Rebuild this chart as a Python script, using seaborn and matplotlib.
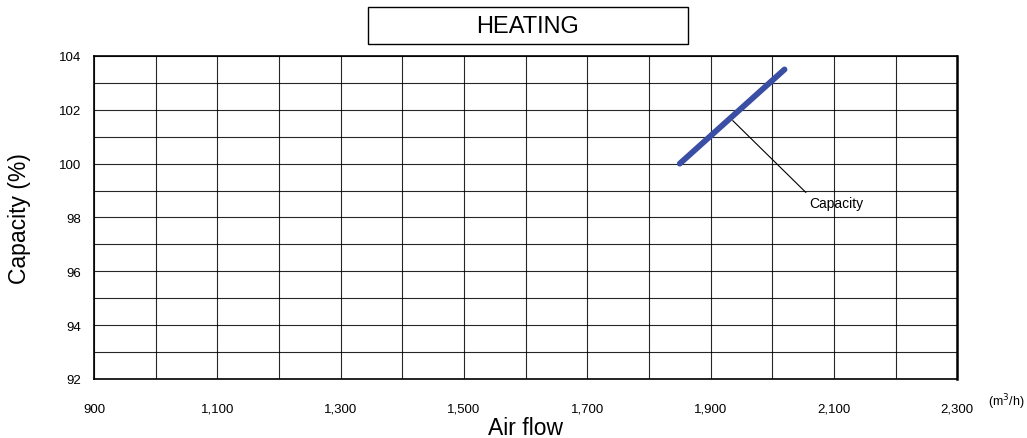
import numpy as np
import pandas as pd
import matplotlib.pyplot as plt
import seaborn as sns
from matplotlib.patches import Rectangle
from matplotlib.ticker import MultipleLocator, FuncFormatter

# Air flow vs capacity (heating)
air_flow = [1850, 2020]
capacity = [100.0, 103.5]
series_name = "Capacity"
x_ticks = [900, 1100, 1300, 1500, 1700, 1900, 2100, 2300]
y_ticks = [92, 94, 96, 98, 100, 102, 104]

df = pd.DataFrame({'air_flow': air_flow, 'capacity': capacity})

sns.set_style("white")
plt.rcParams['font.family'] = ['Liberation Sans', 'DejaVu Sans']
plt.rcParams['text.color'] = 'black'
plt.rcParams['axes.labelcolor'] = 'black'
plt.rcParams['xtick.color'] = 'black'
plt.rcParams['ytick.color'] = 'black'

fig = plt.figure(figsize=(10.27, 4.39), dpi=100)
ax = fig.add_axes([0.0915, 0.1344, 0.8405, 0.7358])

sns.lineplot(data=df, x='air_flow', y='capacity', ax=ax, color='#3a4ea3',
             linewidth=4.2, solid_capstyle='round')

ax.set_xlim(900, 2300)
ax.set_ylim(92, 104)
ax.set_xticks(x_ticks)
ax.set_yticks(y_ticks)
ax.xaxis.set_minor_locator(MultipleLocator(100))
ax.yaxis.set_minor_locator(MultipleLocator(1))
ax.xaxis.set_major_formatter(FuncFormatter(lambda v, p: f"{int(v):,}"))
ax.grid(which='both', color='black', linewidth=0.8, alpha=0.85)
ax.set_axisbelow(True)
ax.tick_params(axis='x', which='both', length=0, pad=17, labelsize=9.5)
ax.tick_params(axis='y', which='major', length=2, pad=7, labelsize=9.5)
ax.tick_params(axis='y', which='minor', length=0)

for s in ax.spines.values():
    s.set_color('black')
    s.set_linewidth(1.2)
ax.spines['right'].set_linewidth(1.8)

ax.set_xlabel("Air flow", fontsize=16.5, va='center')
ax.set_ylabel("Capacity (%)", fontsize=16.5, va='center')
ax.xaxis.set_label_coords(0.5, -0.149)
ax.yaxis.set_label_coords(-0.0857, 0.5)

ax.annotate(series_name, xy=(1936, 101.6), xytext=(2060, 98.55),
            fontsize=10, va='center', ha='left',
            arrowprops=dict(arrowstyle='-', color='black', lw=0.8,
                            relpos=(0, 1), shrinkA=0, shrinkB=0))

ax.text(1.057, -0.068, r"(m$^3$/h)", transform=ax.transAxes, fontsize=9,
        ha='center', va='center')

# title box
W, H = 1027, 439
fig.patches.append(Rectangle((368 / W, 1 - 45 / H), 320 / W, 37 / H,
                             transform=fig.transFigure, fill=False,
                             edgecolor='black', linewidth=1.0))
fig.text(528 / W, 1 - 27 / H, "HEATING", fontsize=17, ha='center', va='center')

plt.savefig('out.png', dpi=100)
